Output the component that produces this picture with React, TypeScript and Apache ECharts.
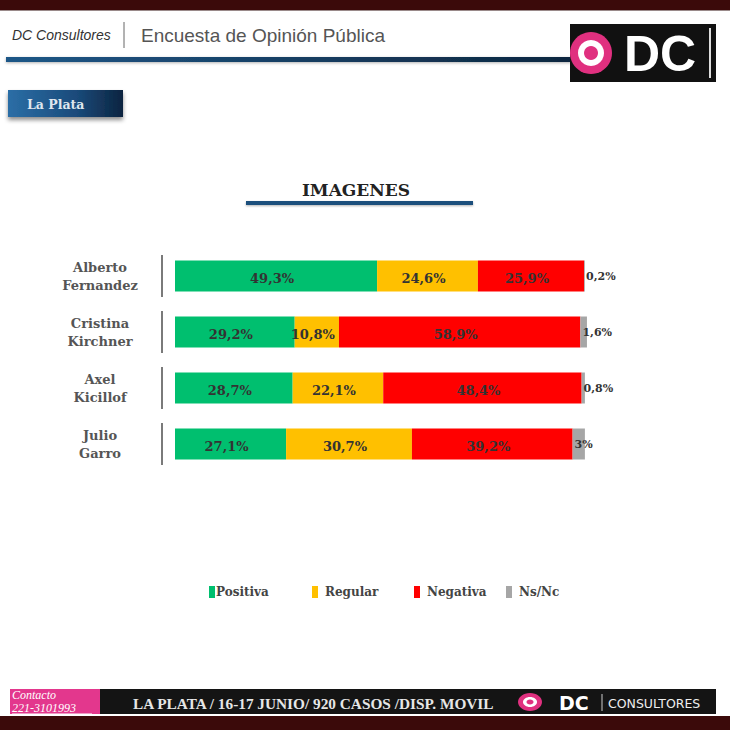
import React, { useEffect, useRef } from "react";
import * as echarts from "echarts";

const categories = ["Alberto\nFernandez", "Cristina\nKirchner", "Axel\nKicillof", "Julio\nGarro"];
const positiva = [49.3, 29.2, 28.7, 27.1];
const regular = [24.6, 10.8, 22.1, 30.7];
const negativa = [25.9, 58.9, 48.4, 39.2];
const nsnc = [0.2, 1.6, 0.8, 3];
const seriesNames = ["Positiva", "Regular", "Negativa", "Ns/Nc"];
const seriesColors = ["#00BF6F", "#FFC000", "#FF0000", "#A6A6A6"];
const legendLefts = [204, 307, 409, 501];

const SERIF = "'DejaVu Serif', Georgia, serif";
const fmt = (v: number) => String(v).replace(".", ",") + "%";

export default function App() {
  const ref = useRef<HTMLDivElement>(null);
  useEffect(() => {
    document.body.style.margin = "0";
    const chart = echarts.init(ref.current!, null, { renderer: "svg" });
    const values = [positiva, regular, negativa, nsnc];
    const barSeries = values.map((arr, i) => ({
      type: "bar",
      name: seriesNames[i],
      stack: "total",
      barWidth: 31,
      data: arr,
      itemStyle: { color: seriesColors[i] },
      label: {
        show: true,
        position: i === 3 ? "insideLeft" : "inside",
        distance: 2,
        formatter: (p: any) => fmt(p.value),
        fontFamily: SERIF,
        fontWeight: "bold",
        fontSize: i === 3 ? 11 : 13,
        color: "#333",
        offset: i === 3 ? [0, 0] : [-4, 2],
      },
    }));
    const sepSeries = {
      type: "custom",
      silent: true,
      data: categories.map((_, i) => [0, i]),
      renderItem: (params: any, api: any) => {
        const p = api.coord([api.value(0), api.value(1)]);
        return {
          type: "line",
          shape: { x1: p[0] - 13, y1: p[1] - 21, x2: p[0] - 13, y2: p[1] + 21 },
          style: { stroke: "#7a7a7a", lineWidth: 2 },
        };
      },
      z: 1,
    };
    const legends = seriesNames.map((n, i) => ({
      data: [n],
      left: legendLefts[i],
      top: 581,
      icon: "rect",
      itemWidth: 6,
      itemHeight: 12,
      itemGap: 0,
      textStyle: {
        fontFamily: SERIF,
        fontWeight: "bold",
        fontSize: 12,
        color: "#444",
        padding: [0, 0, 0, i === 0 ? -4 : 2],
      },
    }));
    chart.setOption({
      animation: false,
      backgroundColor: "#ffffff",
      grid: { left: 175, top: 248, height: 224, width: 414 },
      xAxis: { type: "value", min: 0, max: 101, show: false },
      yAxis: {
        type: "category",
        inverse: true,
        data: categories,
        axisLine: { show: false },
        axisTick: { show: false },
        axisLabel: {
          align: "center",
          margin: 75,
          fontFamily: SERIF,
          fontWeight: "bold",
          fontSize: 13,
          lineHeight: 18,
          color: "#555",
        },
      },
      legend: legends,
      series: [...barSeries, sepSeries],
      graphic: [
        // top band
        { type: "rect", shape: { x: 0, y: 0, width: 730, height: 10 }, style: { fill: "#3b0a0a" } },
        { type: "rect", shape: { x: 0, y: 10, width: 730, height: 1 }, style: { fill: "#9a8a8a" } },
        // header texts
        {
          type: "text",
          x: 12,
          y: 35,
          style: { text: "DC Consultores", fontFamily: "'Liberation Sans', sans-serif", fontStyle: "italic", fontSize: 14, fill: "#333", textVerticalAlign: "middle" },
        },
        { type: "line", shape: { x1: 124, y1: 22, x2: 124, y2: 48 }, style: { stroke: "#666", lineWidth: 1 } },
        {
          type: "text",
          x: 141,
          y: 35,
          style: { text: "Encuesta de Opinión Pública", fontFamily: "'Liberation Sans', sans-serif", fontSize: 19, fill: "#555", textVerticalAlign: "middle" },
        },
        {
          type: "rect",
          shape: { x: 6, y: 57, width: 566, height: 5 },
          style: {
            fill: new echarts.graphic.LinearGradient(0, 0, 1, 0, [
              { offset: 0, color: "#1f5787" },
              { offset: 1, color: "#0e2740" },
            ]),
            shadowBlur: 3,
            shadowColor: "rgba(0,0,0,0.3)",
            shadowOffsetY: 1,
          },
        },
        // logo
        { type: "rect", shape: { x: 570, y: 24, width: 146, height: 58 }, style: { fill: "#111" } },
        { type: "circle", shape: { cx: 591, cy: 53, r: 21 }, style: { fill: "#E0307F" } },
        { type: "circle", shape: { cx: 591, cy: 53, r: 13 }, style: { fill: "#ffffff" } },
        { type: "circle", shape: { cx: 591, cy: 53, r: 7 }, style: { fill: "#E0307F" } },
        {
          type: "text",
          x: 660,
          y: 54,
          style: { text: "DC", fontFamily: "'Liberation Sans', sans-serif", fontWeight: "bold", fontSize: 50, fill: "#ffffff", textAlign: "center", textVerticalAlign: "middle" },
        },
        { type: "rect", shape: { x: 709, y: 28, width: 2, height: 50 }, style: { fill: "#ddd" } },
        // La Plata badge
        {
          type: "rect",
          shape: { x: 8, y: 90, width: 115, height: 27 },
          style: {
            fill: new echarts.graphic.LinearGradient(0, 0, 1, 0, [
              { offset: 0, color: "#2b6ea6" },
              { offset: 0.6, color: "#1a4a7a" },
              { offset: 1, color: "#0c2440" },
            ]),
            shadowBlur: 4,
            shadowColor: "rgba(0,0,0,0.45)",
            shadowOffsetY: 3,
          },
        },
        {
          type: "text",
          x: 27,
          y: 104,
          style: { text: "La Plata", fontFamily: SERIF, fontWeight: "bold", fontSize: 12.5, fill: "#dfe6ee", textVerticalAlign: "middle" },
        },
        // title
        {
          type: "text",
          x: 356,
          y: 190,
          style: { text: "IMAGENES", fontFamily: SERIF, fontWeight: "bold", fontSize: 17, fill: "#222", textAlign: "center", textVerticalAlign: "middle" },
        },
        {
          type: "rect",
          shape: { x: 246, y: 201, width: 227, height: 4 },
          style: { fill: "#1b4f7c", shadowBlur: 2, shadowColor: "rgba(0,0,0,0.3)", shadowOffsetY: 1 },
        },
        // footer
        { type: "rect", shape: { x: 10, y: 689, width: 90, height: 25 }, style: { fill: "#E3378D" } },
        { type: "rect", shape: { x: 100, y: 689, width: 616, height: 25 }, style: { fill: "#141414" } },
        {
          type: "text",
          x: 12,
          y: 695,
          style: { text: "Contacto", fontFamily: "'Liberation Serif', serif", fontStyle: "italic", fontSize: 12, fill: "#fff", textVerticalAlign: "middle" },
        },
        {
          type: "text",
          x: 12,
          y: 708,
          style: { text: "221-3101993", fontFamily: "'Liberation Serif', serif", fontStyle: "italic", fontSize: 12, fill: "#fff", textVerticalAlign: "middle" },
        },
        { type: "line", shape: { x1: 12, y1: 714, x2: 92, y2: 714 }, style: { stroke: "#fff", lineWidth: 1 } },
        {
          type: "text",
          x: 133,
          y: 703,
          style: { text: "LA PLATA / 16-17 JUNIO/ 920 CASOS /DISP. MOVIL", fontFamily: "'Liberation Serif', serif", fontWeight: "bold", fontSize: 15.3, fill: "#e6e6e6", textVerticalAlign: "middle" },
        },
        { type: "ellipse", shape: { cx: 530, cy: 702, rx: 12, ry: 9 }, style: { fill: "#E0307F" } },
        { type: "ellipse", shape: { cx: 530, cy: 702, rx: 7, ry: 5 }, style: { fill: "#ffffff" } },
        { type: "ellipse", shape: { cx: 530, cy: 702, rx: 3.5, ry: 2.5 }, style: { fill: "#E0307F" } },
        {
          type: "text",
          x: 559,
          y: 703,
          style: { text: "DC", fontFamily: "'DejaVu Sans', sans-serif", fontWeight: "bold", fontSize: 19, fill: "#fff", textVerticalAlign: "middle" },
        },
        { type: "line", shape: { x1: 602, y1: 694, x2: 602, y2: 711 }, style: { stroke: "#ccc", lineWidth: 1 } },
        {
          type: "text",
          x: 608,
          y: 703,
          style: { text: "CONSULTORES", fontFamily: "'DejaVu Sans', sans-serif", fontSize: 12.5, fill: "#eee", textVerticalAlign: "middle" },
        },
        { type: "rect", shape: { x: 0, y: 716, width: 730, height: 14 }, style: { fill: "#3b0a0a" } },
      ],
    });
    return () => chart.dispose();
  }, []);
  return <div ref={ref} style={{ width: 730, height: 730 }} />;
}
